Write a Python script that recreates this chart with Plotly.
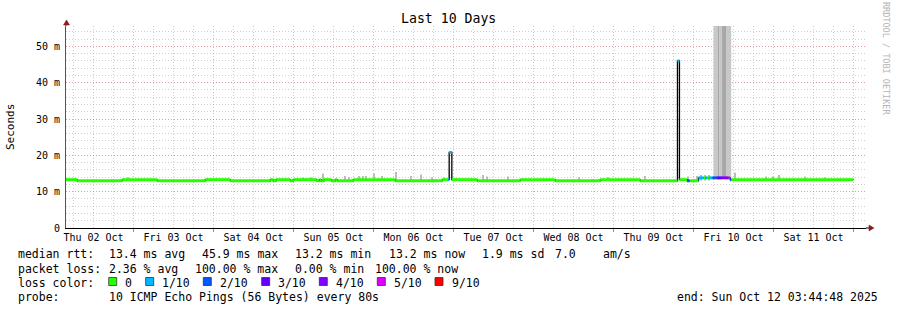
import plotly.graph_objects as go
import pandas as pd

# ---------------- data ----------------
START = "2025-10-02 03:44:48"
END = "2025-10-12 03:44:48"
DATA_END = "2025-10-12 00:00"

day_noons = ["2025-10-%02d 12:00" % d for d in range(2, 12)]
day_labels = ["Thu 02 Oct", "Fri 03 Oct", "Sat 04 Oct", "Sun 05 Oct", "Mon 06 Oct",
              "Tue 07 Oct", "Wed 08 Oct", "Thu 09 Oct", "Fri 10 Oct", "Sat 11 Oct"]

y_tick_vals = [0, 10, 20, 30, 40, 50]
y_tick_text = ["0", "10 m", "20 m", "30 m", "40 m", "50 m"]

# median rtt (ms) as runs: start time, value, lost pings out of 10
seg_start = ["2025-10-02 03:44:48", "2025-10-02 07:06", "2025-10-02 20:36", "2025-10-03 07:06",
             "2025-10-03 21:30", "2025-10-04 05:00", "2025-10-04 17:00", "2025-10-04 17:54",
             "2025-10-04 18:48", "2025-10-04 23:00", "2025-10-04 23:54", "2025-10-05 07:00",
             "2025-10-05 07:50", "2025-10-05 08:18", "2025-10-05 09:12", "2025-10-05 11:18",
             "2025-10-05 12:30", "2025-10-05 13:06", "2025-10-05 17:54", "2025-10-06 06:30",
             "2025-10-06 20:36", "2025-10-06 22:24", "2025-10-06 22:42", "2025-10-06 23:30",
             "2025-10-07 07:06", "2025-10-07 20:00", "2025-10-08 06:30", "2025-10-08 20:00",
             "2025-10-09 08:00", "2025-10-09 19:11", "2025-10-09 19:47", "2025-10-09 22:06",
             "2025-10-09 22:48", "2025-10-10 01:30", "2025-10-10 02:30", "2025-10-10 03:00",
             "2025-10-10 03:30", "2025-10-10 04:06", "2025-10-10 04:42", "2025-10-10 05:42",
             "2025-10-10 07:00", "2025-10-10 08:30", "2025-10-10 10:30", "2025-10-10 11:00",
             "2025-10-10 11:18"]
seg_median = [13.3, 13.0, 13.3, 13.0,
              13.3, 13.0, 13.3, 13.0,
              13.3, 13.0, 13.3, 13.0,
              13.3, 13.0, 13.3, 13.0,
              13.3, 13.0, 13.3, 13.0,
              13.3, 13.3, 20.8, 13.3,
              13.0, 13.3, 13.0, 13.3,
              13.0, 46.0, 13.3, 13.0,
              13.0, 13.8, 13.8, 13.8,
              13.8, 13.8, 13.8, 13.8,
              13.8, 13.8, 13.8, 13.3,
              13.3]
seg_loss = [0, 0, 0, 0,
            0, 0, 0, 0,
            0, 0, 0, 0,
            0, 0, 0, 0,
            0, 0, 0, 0,
            0, 1, 1, 0,
            0, 0, 0, 0,
            0, 1, 0, 2,
            0, 1, 1, 0,
            1, 0, 1, 2,
            3, 4, 5, 2,
            0]

# smoke (ping spread) ticks above the median: time, highest ping (ms)
smoke_time = ["2025-10-02 22:24", "2025-10-05 02:54", "2025-10-05 05:18", "2025-10-05 08:42",
              "2025-10-05 15:18", "2025-10-05 16:42", "2025-10-05 19:30", "2025-10-05 20:54",
              "2025-10-05 21:48", "2025-10-06 00:12", "2025-10-06 02:30", "2025-10-06 06:42",
              "2025-10-06 11:18", "2025-10-06 14:06", "2025-10-06 17:30", "2025-10-06 21:00",
              "2025-10-07 08:42", "2025-10-07 10:00", "2025-10-07 16:18", "2025-10-08 13:42",
              "2025-10-08 22:12", "2025-10-09 09:30", "2025-10-09 22:12", "2025-10-10 01:00",
              "2025-10-10 02:18", "2025-10-10 03:30", "2025-10-10 04:42", "2025-10-10 12:18",
              "2025-10-10 21:48", "2025-10-10 23:48", "2025-10-11 01:30", "2025-10-11 09:18",
              "2025-10-11 15:30"]
smoke_top = [14.0, 13.9, 14.0, 15.0,
             14.3, 14.0, 14.3, 14.3,
             14.3, 15.0, 14.3, 15.4,
             14.3, 14.7, 14.0, 14.0,
             14.6, 14.2, 14.2, 14.0,
             14.0, 14.3, 14.2, 14.3,
             14.6, 14.6, 14.6, 15.2,
             14.2, 14.2, 14.6, 14.2,
             14.0]

# heavy-loss period: smoke columns running off the top of the chart
col_start = ["2025-10-10 06:00", "2025-10-10 07:18", "2025-10-10 07:48", "2025-10-10 08:30", "2025-10-10 09:48"]
col_end = ["2025-10-10 07:18", "2025-10-10 07:48", "2025-10-10 08:30", "2025-10-10 09:48", "2025-10-10 11:18"]
col_base = 13.8
col_top = [60, 60, 60, 60, 60]
col_shade = ["#c8c8c8", "#a8a8a8", "#c4c4c4", "#a8a8a8", "#c8c8c8"]

loss_levels = [0, 1, 2, 3, 4, 5, 9]
loss_colors = ["#26ff00", "#00b8ff", "#0059ff", "#5e00ff", "#7e00ff", "#dd00ff", "#ff0000"]
loss_labels = ["0", "1/10", "2/10", "3/10", "4/10", "5/10", "9/10"]

median_line = ["median rtt:", "13.4 ms avg", "45.9 ms max", "13.2 ms min", "13.2 ms now",
               "1.9 ms sd", "7.0", "am/s"]
loss_line = ["packet loss:", "2.36 % avg", "100.00 % max", "0.00 % min", "100.00 % now"]
probe_line = ["probe:", "10 ICMP Echo Pings (56 Bytes) every 80s"]
end_text = "end: Sun Oct 12 03:44:48 2025"
title_text = "Last 10 Days"

# ---------------- layout geometry (pixels) ----------------
W, H = 897, 310
PL, PR, PT, PB = 66, 866, 26, 228
Y_MAX = 55.6
FONT = "DejaVu Sans Mono"


def px(xp):
    return (xp - PL) / (PR - PL)


def py(yp):
    return (PB - yp) / (PB - PT)


def to_dt(v):
    return pd.to_datetime(v, format="mixed")


fig = go.Figure()

# smoke ticks
base_val = 13.1
fig.add_trace(go.Bar(
    x=to_dt(smoke_time), base=[base_val] * len(smoke_top),
    y=[t - base_val for t in smoke_top], width=18 * 60 * 1000,
    marker=dict(color="#bcbcbc", line=dict(width=0)), hoverinfo="skip", showlegend=False))

# heavy smoke columns drawn as filled polygons (no seams)
cs = list(to_dt(col_start))
ce = list(to_dt(col_end))
for shade in dict.fromkeys(col_shade):
    xs, ys = [], []
    for s, e, t, c in zip(cs, ce, col_top, col_shade):
        if c == shade:
            xs += [s, s, e, e, s, None]
            ys += [col_base, t, t, col_base, col_base, None]
    fig.add_trace(go.Scatter(x=xs, y=ys, mode="lines", fill="toself", fillcolor=shade,
                             line=dict(width=0, color=shade), hoverinfo="skip", showlegend=False))

# black connecting step line
st = list(to_dt(seg_start)) + [pd.Timestamp(DATA_END)]
fig.add_trace(go.Scatter(
    x=st, y=seg_median + [seg_median[-1]], mode="lines", line=dict(color="black", width=1.3, shape="hv"),
    hoverinfo="skip", showlegend=False))

# loss-coloured median segments
for lvl, col in zip(loss_levels, loss_colors):
    xs, ys = [], []
    for i, l in enumerate(seg_loss):
        if l == lvl:
            xs += [st[i], st[i + 1], None]
            ys += [seg_median[i], seg_median[i], None]
    if xs:
        fig.add_trace(go.Scatter(x=xs, y=ys, mode="lines", line=dict(color=col, width=3),
                                 hoverinfo="skip", showlegend=False))

# dummy trace for grid axis
fig.add_trace(go.Scatter(x=[pd.Timestamp(START)], y=[None], xaxis="x2", mode="lines",
                         showlegend=False, hoverinfo="skip"))

minor_grid = "rgba(160,160,160,0.5)"
major_grid = "rgba(230,120,120,0.55)"
dash = "1px,2px"

fig.update_layout(
    width=W, height=H, margin=dict(l=PL, r=W - PR, t=PT, b=H - PB),
    paper_bgcolor="white", plot_bgcolor="white", barmode="overlay",
    font=dict(family=FONT, size=10, color="black"),
    xaxis=dict(type="date", range=[START, END], tickmode="array", tickvals=day_noons, ticktext=day_labels,
               showgrid=False, zeroline=False, showline=True, linecolor="black", linewidth=1,
               ticks="", tickfont=dict(family=FONT, size=10, color="black")),
    xaxis2=dict(type="date", overlaying="x", matches="x", side="bottom", tick0="2025-10-02 00:00",
                dtick=86400000, showgrid=True, gridcolor=major_grid, griddash=dash, gridwidth=1,
                showticklabels=False, ticks="outside", ticklen=3, tickcolor="#c08080", showline=False,
                zeroline=False,
                minor=dict(dtick=21600000, tick0="2025-10-02 00:00", showgrid=True,
                           gridcolor=minor_grid, griddash=dash, gridwidth=1, ticks="")),
    yaxis=dict(range=[0, Y_MAX], tickmode="array", tickvals=y_tick_vals, ticktext=y_tick_text,
               showgrid=True, gridcolor=major_grid, griddash=dash, zeroline=False,
               showline=True, linecolor="#555555", linewidth=1, ticks="outside", ticklen=3,
               tickcolor="rgba(0,0,0,0)", tickfont=dict(family=FONT, size=10, color="black"),
               minor=dict(dtick=2, tick0=0, showgrid=True, gridcolor=minor_grid, griddash=dash,
                          gridwidth=1, ticks="")),
)

ann = []
ann.append(dict(text=title_text, x=px(448), y=py(19), xref="paper", yref="paper", showarrow=False,
                xanchor="center", yanchor="middle", font=dict(family=FONT, size=13.2, color="black")))
ann.append(dict(text="Seconds", x=px(10), y=py(127), xref="paper", yref="paper", showarrow=False,
                textangle=-90, xanchor="center", yanchor="middle", font=dict(family=FONT, size=11, color="black")))
ann.append(dict(text="RRDTOOL / TOBI OETIKER", x=px(886), y=py(59), xref="paper", yref="paper", showarrow=False,
                textangle=90, xanchor="center", yanchor="middle", font=dict(family=FONT, size=8.5, color="#b4b4b4")))

LF = dict(family=FONT, size=11.5, color="black")
row_y = [254.5, 268.5, 282.5, 296.5]
median_x = [16, 107.3, 200, 293.3, 386.7, 480, 552.7, 600.7]
loss_x = [16, 107.3, 193.3, 293.3, 373]
for t, xx in zip(median_line, median_x):
    ann.append(dict(text=t, x=px(xx), y=py(row_y[0]), xref="paper", yref="paper", showarrow=False,
                    xanchor="left", yanchor="middle", font=LF))
for t, xx in zip(loss_line, loss_x):
    ann.append(dict(text=t, x=px(xx), y=py(row_y[1]), xref="paper", yref="paper", showarrow=False,
                    xanchor="left", yanchor="middle", font=LF))
ann.append(dict(text="loss color:", x=px(16), y=py(row_y[2]), xref="paper", yref="paper", showarrow=False,
                xanchor="left", yanchor="middle", font=LF))
swatch_x = [108.7, 145.7, 203.3, 261.7, 319.3, 377.3, 435]
shapes = []
for sx, col, lab in zip(swatch_x, loss_colors, loss_labels):
    shapes.append(dict(type="rect", xref="paper", yref="paper", x0=px(sx), x1=px(sx + 8),
                       y0=py(285.5), y1=py(277.5), fillcolor=col, line=dict(color="#333333", width=0.8)))
    ann.append(dict(text=lab, x=px(sx + 14.6), y=py(row_y[2]), xref="paper", yref="paper", showarrow=False,
                    xanchor="left", yanchor="middle", font=LF))
ann.append(dict(text=probe_line[0], x=px(16), y=py(row_y[3]), xref="paper", yref="paper", showarrow=False,
                xanchor="left", yanchor="middle", font=LF))
ann.append(dict(text=probe_line[1], x=px(107.3), y=py(row_y[3]), xref="paper", yref="paper", showarrow=False,
                xanchor="left", yanchor="middle", font=LF))
ann.append(dict(text=end_text, x=px(880), y=py(row_y[3]), xref="paper", yref="paper", showarrow=False,
                xanchor="right", yanchor="middle", font=LF))

# axis arrows
arrow_col = "#8b1a1a"
shapes.append(dict(type="line", xref="paper", yref="paper", x0=px(866), x1=px(869), y0=0, y1=0,
                   line=dict(color="black", width=1)))
shapes.append(dict(type="path", xref="paper", yref="paper",
                   path="M %f,%f L %f,%f L %f,%f Z" % (px(869), py(225), px(869), py(231), px(874), py(228)),
                   fillcolor=arrow_col, line=dict(color=arrow_col, width=0.5)))
shapes.append(dict(type="line", xref="paper", yref="paper", x0=0, x1=0, y0=1, y1=py(24),
                   line=dict(color="#555555", width=1)))
shapes.append(dict(type="path", xref="paper", yref="paper",
                   path="M %f,%f L %f,%f L %f,%f Z" % (px(63.5), py(25), px(69.5), py(25), px(66.5), py(20)),
                   fillcolor=arrow_col, line=dict(color=arrow_col, width=0.5)))

fig.update_layout(annotations=ann, shapes=shapes)
fig.write_html("out.html")
